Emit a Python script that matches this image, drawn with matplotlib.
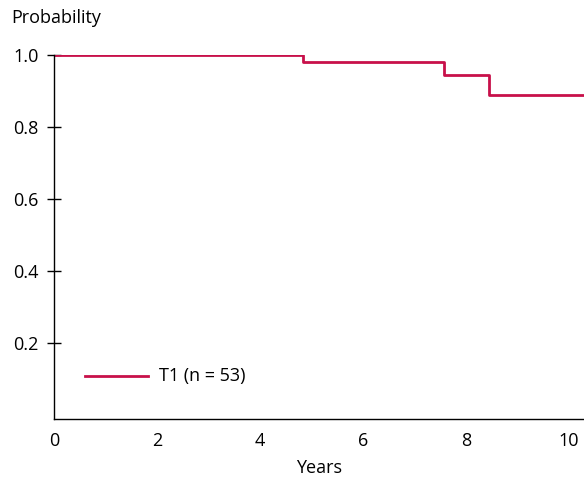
import matplotlib.pyplot as plt

# Données (Kaplan-Meier, T1)
times = [0, 4.83, 7.57, 8.45, 10.6]
survival = [1.0, 0.981, 0.943, 0.889, 0.889]
x_ticks = [0, 2, 4, 6, 8, 10]
y_ticks = [0.2, 0.4, 0.6, 0.8, 1.0]
legend_label = "T1 (n = 53)"

color = "#C8104A"
fs = 13
plt.rcParams['font.family'] = ['Open Sans', 'DejaVu Sans']

fig = plt.figure(figsize=(5.84, 4.78), dpi=100)
ax = fig.add_axes([0.0925, 0.1234, 0.9075, 0.7616])

ax.step(times, survival, where='post', color=color, lw=2.0, clip_on=True)

# légende manuelle
ax.plot([0.6, 1.83], [0.108, 0.108], color=color, lw=2.0)
ax.text(2.03, 0.108, legend_label, va='center', ha='left', fontsize=fs)

ax.set_xlim(0, 10.29)
ax.set_ylim(-0.011, 1.0)
ax.set_xticks(x_ticks)
ax.set_xticklabels([str(t) for t in x_ticks])
ax.set_yticks(y_ticks)
ax.set_yticklabels([f"{t:.1f}" for t in y_ticks])
ax.tick_params(axis='x', length=0, labelsize=fs, pad=9)
ax.tick_params(axis='y', direction='inout', length=10, width=1, labelsize=fs, pad=6)

for side in ['top', 'right']:
    ax.spines[side].set_visible(False)
for side in ['left', 'bottom']:
    ax.spines[side].set_linewidth(1.0)

ax.set_xlabel("Years", fontsize=fs, labelpad=7)
fig.text(0.02, 0.962, "Probability", fontsize=fs, ha='left', va='center')

fig.savefig("out.png", dpi=100)
